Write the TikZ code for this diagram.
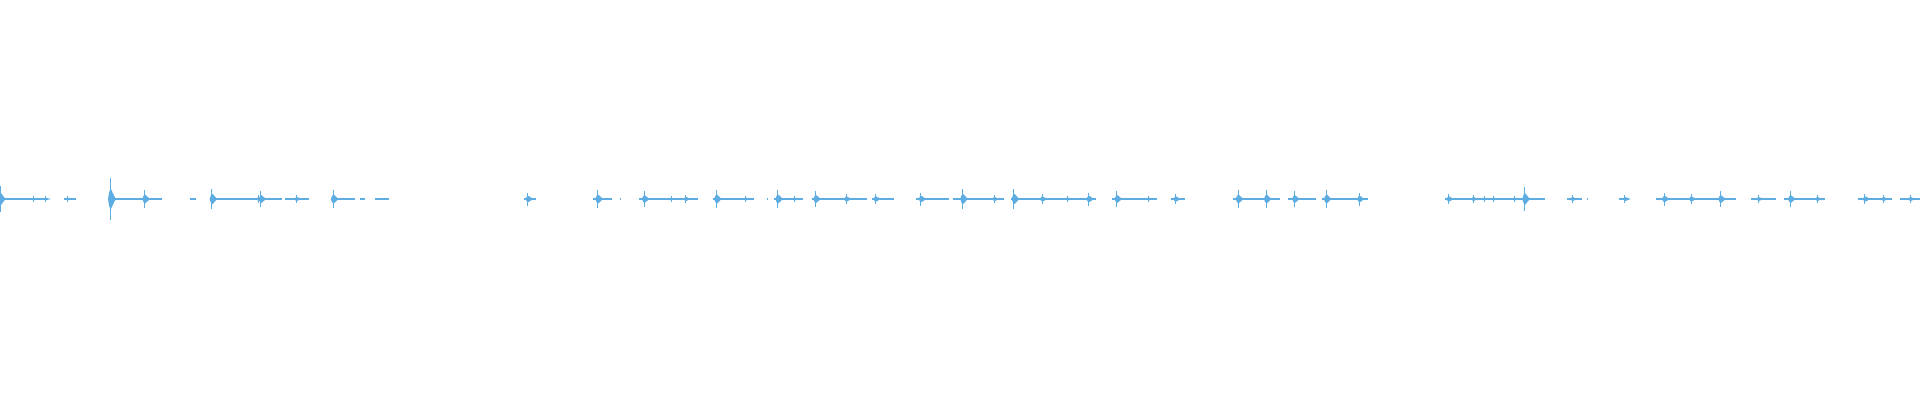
\documentclass[tikz,border=0pt]{standalone}
\definecolor{wave}{HTML}{5DADE2}
\begin{document}
\begin{tikzpicture}[x=0.12245mm,y=0.1mm,wline/.style={wave,line width=0.15mm},wfill/.style={fill=wave,draw=none}]
\useasboundingbox (0,0) rectangle (1568,400);
\coordinate (c) at (0,201);
\foreach \a/\b in {0/38,52/62,88/132,155/160,172/230,233/252,270/290,294/298,306/318,428/438,484/500,506/507,522/570,582/616,626/627,632/656,663/708,712/730,748/775,778/820,826/895,908/945,956/968,1007/1045,1052/1075,1080/1117,1180/1262,1280/1292,1296/1297,1322/1330,1352/1418,1430/1450,1457/1490,1517/1545,1552/1568}
  \draw[wline] ([xshift=\a*0.12245mm]c) -- ([xshift=\b*0.12245mm]c);
\foreach \x/\h in {0/10,90/16,118/7,173/8,213/6,272/7,431/5,488/7,526/6,585/7,635/7,666/6,691/4,715/4,752/5,786/8,828/8,851/4,889/5,912/6,960/4,1011/7,1034/7,1057/6,1083/7,1110/5,1183/4,1203/3,1245/9,1284/3,1327/3,1359/5,1381/4,1405/6,1436/3,1462/6,1484/3,1523/4,1538/3,1560/3,27/2,37/2,55/2,211/3,242/3,560/3,548/2,609/2,649/2,812/3,872/2,938/2,1220/2,1212/2,1237/2}
  {\fill[wfill] (\x-0.35,201-1.3*\h) rectangle (\x+0.35,201+1.3*\h);
   \fill[wfill] (\x-1.8,201) -- (\x-0.8,201+0.45*\h) -- (\x+0.5,201+0.65*\h) -- (\x+2,201+0.4*\h) -- (\x+3.5,201+0.15*\h) -- (\x+5,201) -- (\x+3.5,201-0.15*\h) -- (\x+2,201-0.4*\h) -- (\x+0.5,201-0.65*\h) -- (\x-0.8,201-0.45*\h) -- cycle;}
\end{tikzpicture}
\end{document}
